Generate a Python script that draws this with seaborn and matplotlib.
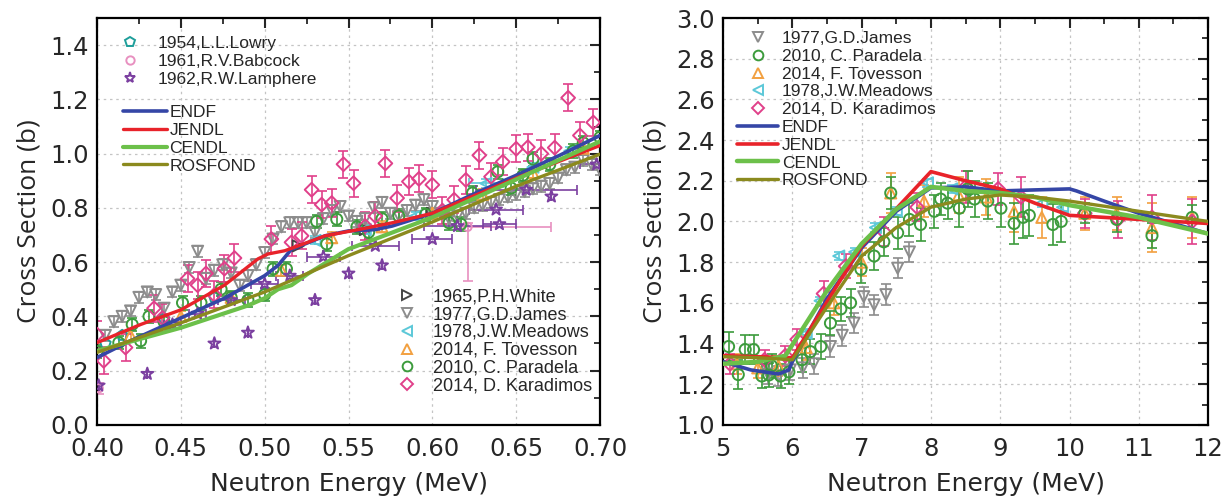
import seaborn as sns
import matplotlib.pyplot as plt
from matplotlib.lines import Line2D
from matplotlib.ticker import MultipleLocator

# ---------------- left panel (0.40 - 0.70 MeV) ----------------
endf_lx = [0.40, 0.42, 0.45, 0.476, 0.50, 0.508, 0.516, 0.524, 0.536, 0.55, 0.566, 0.576, 0.60, 0.626, 0.65, 0.676, 0.70]
endf_ly = [0.248, 0.31, 0.394, 0.467, 0.55, 0.588, 0.648, 0.667, 0.697, 0.715, 0.72, 0.733, 0.78, 0.855, 0.92, 0.994, 1.067]
jendl_lx = [0.40, 0.426, 0.45, 0.476, 0.496, 0.502, 0.512, 0.52, 0.536, 0.556, 0.576, 0.60, 0.65, 0.70]
jendl_ly = [0.303, 0.37, 0.424, 0.515, 0.612, 0.63, 0.642, 0.66, 0.697, 0.72, 0.745, 0.78, 0.91, 1.03]
cendl_lx = [0.40, 0.45, 0.49, 0.50, 0.508, 0.516, 0.526, 0.55, 0.60, 0.65, 0.70]
cendl_ly = [0.273, 0.358, 0.44, 0.467, 0.50, 0.515, 0.558, 0.648, 0.765, 0.905, 1.045]
ros_lx = [0.40, 0.45, 0.50, 0.55, 0.60, 0.65, 0.70]
ros_ly = [0.267, 0.376, 0.49, 0.624, 0.748, 0.88, 0.998]

lowry_x = [0.405, 0.415, 0.44, 0.47]
lowry_y = [0.30, 0.33, 0.39, 0.47]

babcock_x = [0.401, 0.621]
babcock_y = [0.135, 0.73]
babcock_yerr = [[0.02, 0.2], [0.02, 0.015]]
babcock_xerr = [[0.0, 0.0], [0.0, 0.05]]

lamph_x = [0.401, 0.43, 0.445, 0.46, 0.47, 0.48, 0.49, 0.50, 0.515, 0.53, 0.535, 0.55, 0.566, 0.57,
           0.60, 0.615, 0.638, 0.64, 0.656, 0.671, 0.698]
lamph_y = [0.145, 0.188, 0.37, 0.41, 0.30, 0.46, 0.34, 0.52, 0.55, 0.46, 0.62, 0.558, 0.66, 0.588,
           0.685, 0.733, 0.794, 0.74, 0.867, 0.842, 0.96]
lamph_xerr = [0, 0, 0.005, 0.005, 0, 0.008, 0, 0.008, 0.008, 0, 0.01, 0, 0.014, 0,
              0.012, 0.02, 0.016, 0.01, 0.03, 0, 0.01]

white_x = [0.52, 0.56, 0.60]
white_y = [0.66, 0.72, 0.78]

james_lx = [0.405, 0.41, 0.415, 0.42, 0.425, 0.43, 0.435, 0.44, 0.445, 0.45, 0.455, 0.46, 0.465, 0.47, 0.475,
            0.48, 0.485, 0.49, 0.495, 0.50, 0.505, 0.51, 0.515, 0.52, 0.525, 0.53, 0.535, 0.54, 0.545, 0.55,
            0.555, 0.56, 0.565, 0.57, 0.575, 0.58, 0.585, 0.59, 0.595, 0.60, 0.605, 0.61, 0.615, 0.62, 0.625,
            0.63, 0.635, 0.64, 0.645, 0.65, 0.655, 0.66, 0.665, 0.67, 0.675, 0.68, 0.685, 0.69, 0.695, 0.70]
james_ly = [0.33, 0.38, 0.40, 0.42, 0.47, 0.49, 0.48, 0.43, 0.49, 0.515, 0.58, 0.64, 0.54, 0.57, 0.59,
            0.56, 0.515, 0.55, 0.59, 0.635, 0.685, 0.73, 0.745, 0.745, 0.745, 0.71, 0.76, 0.79, 0.805, 0.77,
            0.75, 0.76, 0.80, 0.82, 0.78, 0.77, 0.79, 0.81, 0.83, 0.805, 0.78, 0.76, 0.77, 0.78, 0.80,
            0.81, 0.82, 0.83, 0.84, 0.85, 0.86, 0.87, 0.88, 0.89, 0.91, 0.94, 0.95, 0.975, 0.96, 0.94]

meadows_lx = [0.53, 0.56, 0.59, 0.632, 0.66, 0.682]
meadows_ly = [0.68, 0.72, 0.77, 0.89, 0.95, 1.01]
meadows_lxerr = [0, 0, 0, 0.01, 0, 0]

toves_lx = [0.42, 0.45, 0.48, 0.51, 0.54, 0.57, 0.60, 0.63, 0.66, 0.69]
toves_ly = [0.33, 0.40, 0.47, 0.57, 0.69, 0.73, 0.78, 0.85, 0.93, 1.02]

parad_lx = [0.40, 0.413, 0.421, 0.426, 0.431, 0.44, 0.451, 0.462, 0.474, 0.48, 0.49, 0.50, 0.505, 0.513,
            0.531, 0.537, 0.543, 0.555, 0.562, 0.57, 0.58, 0.596, 0.61, 0.617, 0.624, 0.639, 0.647, 0.654,
            0.66, 0.67, 0.684, 0.69, 0.70]
parad_ly = [0.27, 0.303, 0.37, 0.31, 0.40, 0.38, 0.45, 0.45, 0.50, 0.47, 0.46, 0.48, 0.575, 0.575,
            0.75, 0.667, 0.758, 0.73, 0.71, 0.76, 0.77, 0.776, 0.745, 0.74, 0.855, 0.933, 0.873, 0.92,
            0.98, 0.96, 1.01, 1.04, 1.06]

karad_lx = [0.40, 0.404, 0.417, 0.434, 0.439, 0.454, 0.46, 0.465, 0.47, 0.476, 0.482, 0.504, 0.516, 0.522,
            0.528, 0.534, 0.54, 0.547, 0.553, 0.56, 0.566, 0.572, 0.579, 0.586, 0.592, 0.60, 0.606, 0.613,
            0.62, 0.628, 0.635, 0.642, 0.65, 0.657, 0.665, 0.673, 0.681, 0.688, 0.696]
karad_ly = [0.333, 0.236, 0.285, 0.43, 0.394, 0.539, 0.515, 0.558, 0.479, 0.576, 0.615, 0.685, 0.673, 0.697,
            0.867, 0.812, 0.818, 0.961, 0.891, 0.733, 0.77, 0.964, 0.836, 0.897, 0.907, 0.885, 0.79, 0.83,
            0.903, 0.994, 0.915, 0.97, 1.018, 1.024, 1.0, 1.022, 1.206, 1.067, 1.115]

# ---------------- right panel (5 - 12 MeV) ----------------
endf_rx = [5, 5.4, 5.8, 5.95, 6.0, 6.5, 7.0, 7.5, 8.0, 8.5, 9.0, 9.5, 10.0, 10.1, 10.5, 11.0, 11.5, 12.0]
endf_ry = [1.31, 1.27, 1.25, 1.27, 1.31, 1.62, 1.87, 2.05, 2.165, 2.17, 2.15, 2.155, 2.16, 2.15, 2.10, 2.04, 1.99, 1.94]
jendl_rx = [5, 6.0, 7.0, 8.0, 8.5, 9.0, 9.5, 10.0, 10.5, 11, 12]
jendl_ry = [1.34, 1.33, 1.88, 2.245, 2.20, 2.16, 2.09, 2.03, 2.02, 2.01, 1.99]
cendl_rx = [5, 5.5, 5.9, 6.5, 7.0, 7.5, 8.0, 8.5, 9.0, 9.5, 10, 11, 12]
cendl_ry = [1.30, 1.31, 1.34, 1.66, 1.89, 2.06, 2.17, 2.15, 2.14, 2.12, 2.08, 2.02, 1.94]
ros_rx = [5, 5.5, 6, 6.5, 7, 7.5, 8, 8.5, 9, 9.5, 10, 11, 12]
ros_ry = [1.335, 1.33, 1.32, 1.58, 1.83, 1.97, 2.07, 2.11, 2.13, 2.12, 2.10, 2.05, 2.0]

james_rx = [5.65, 5.8, 5.97, 6.15, 6.31, 6.55, 6.72, 6.89, 7.03, 7.18, 7.35, 7.52, 7.69]
james_ry = [1.25, 1.24, 1.27, 1.28, 1.30, 1.385, 1.44, 1.50, 1.63, 1.59, 1.64, 1.77, 1.85]

parad_rx = [5.08, 5.22, 5.32, 5.44, 5.56, 5.66, 5.7, 5.83, 5.95, 6.14, 6.26, 6.41, 6.55, 6.7, 6.84, 6.99,
            7.18, 7.32, 7.42, 7.52, 7.69, 7.85, 8.05, 8.14, 8.24, 8.41, 8.53, 8.63, 8.82, 9.01, 9.2, 9.33,
            9.42, 9.76, 9.88, 10.22, 10.68, 11.19, 11.77]
parad_ry = [1.385, 1.247, 1.37, 1.37, 1.24, 1.245, 1.29, 1.24, 1.26, 1.32, 1.36, 1.385, 1.50, 1.57, 1.60,
            1.765, 1.83, 1.90, 2.14, 1.944, 2.01, 1.985, 2.05, 2.11, 2.09, 2.065, 2.16, 2.11, 2.10, 2.065,
            1.99, 2.02, 2.03, 1.985, 2.0, 2.04, 2.01, 1.93, 2.02]
parad_rerr = [0.07, 0.07, 0.07, 0.07, 0.06, 0.06, 0.06, 0.06, 0.06, 0.06, 0.06, 0.06, 0.06, 0.06, 0.07,
              0.07, 0.07, 0.07, 0.08, 0.08, 0.08, 0.08, 0.08, 0.08, 0.08, 0.09, 0.09, 0.09, 0.09, 0.09,
              0.10, 0.10, 0.10, 0.10, 0.10, 0.05, 0.06, 0.06, 0.06]

toves_rx = [5.2, 5.5, 5.8, 6.2, 6.6, 7.0, 7.42, 7.9, 8.4, 8.8, 9.2, 9.6, 10.22, 10.68, 11.19, 11.77]
toves_ry = [1.30, 1.28, 1.29, 1.38, 1.60, 1.80, 2.14, 2.10, 2.13, 2.12, 2.05, 2.02, 2.04, 2.04, 1.97, 2.02]
toves_rerr = [0.05, 0.05, 0.05, 0.06, 0.06, 0.07, 0.10, 0.08, 0.09, 0.09, 0.10, 0.10, 0.08, 0.08, 0.12, 0.10]

meadows_rx = [6.2, 6.4, 6.67, 6.9, 7.2, 7.5, 7.95, 8.3, 9.6, 9.9]
meadows_ry = [1.45, 1.61, 1.83, 1.85, 1.97, 2.05, 2.19, 2.16, 2.09, 2.07]

karad_rx = [5.1, 5.6, 5.9, 6.07, 6.45, 6.77, 7.32, 7.8, 8.5, 8.97, 9.3, 10.22, 10.7, 11.19, 11.77]
karad_ry = [1.30, 1.32, 1.34, 1.42, 1.645, 1.78, 1.95, 2.07, 2.17, 2.16, 2.12, 2.04, 2.01, 2.02, 2.0]
karad_rerr = [0.05, 0.05, 0.05, 0.05, 0.06, 0.06, 0.07, 0.07, 0.08, 0.08, 0.10, 0.07, 0.09, 0.11, 0.11]

C = dict(endf='#3546A6', jendl='#E8232A', cendl='#6CC04A', ros='#8B8A1E',
         lowry='#1E9E9A', babcock='#E890C0', lamph='#7B3FA0', white='#444444',
         james='#8C8C8C', meadows='#5CC8D8', toves='#F2A040', parad='#3C9B3C', karad='#E0408A')

sns.set_style('white')
plt.rcParams['font.family'] = ['DejaVu Sans']

fig = plt.figure(figsize=(12.28, 5.01), dpi=100)
axL = fig.add_axes([0.079, 0.152, 0.4096, 0.812])
axR = fig.add_axes([0.5888, 0.152, 0.395, 0.812])


def exp(ax, x, y, marker, color, yerr=None, xerr=None, ms=8.0):
    if yerr is not None or xerr is not None:
        ax.errorbar(x, y, yerr=yerr, xerr=xerr, fmt='none', ecolor=color,
                    elinewidth=1.2, capsize=3.5, capthick=1.2, zorder=2)
    pts = sns.scatterplot(x=x, y=y, ax=ax, marker=marker, s=ms ** 2, zorder=3)
    coll = pts.collections[-1]
    coll.set_facecolor('none')
    coll.set_edgecolor(color)
    coll.set_linewidth(1.4)


def evals(ax, data):
    for x, y, c, lw in data:
        sns.lineplot(x=x, y=y, ax=ax, color=c, lw=lw, zorder=5, sort=True, estimator=None)


# left panel
exp(axL, lowry_x, lowry_y, 'p', C['lowry'])
exp(axL, babcock_x, babcock_y, 'o', C['babcock'], yerr=babcock_yerr, xerr=babcock_xerr, ms=6)
exp(axL, white_x, white_y, '>', C['white'])
exp(axL, james_lx, james_ly, 'v', C['james'], yerr=[0.02] * len(james_lx))
exp(axL, meadows_lx, meadows_ly, '<', C['meadows'], yerr=[0.015] * len(meadows_lx), xerr=meadows_lxerr)
exp(axL, toves_lx, toves_ly, '^', C['toves'], yerr=[0.02] * len(toves_lx))
exp(axL, parad_lx, parad_ly, 'o', C['parad'], yerr=[0.025] * len(parad_lx))
exp(axL, karad_lx, karad_ly, 'D', C['karad'], yerr=[0.05] * len(karad_lx), ms=7)
exp(axL, lamph_x, lamph_y, '*', C['lamph'], xerr=lamph_xerr, ms=9)
evals(axL, [(endf_lx, endf_ly, C['endf'], 2.6), (jendl_lx, jendl_ly, C['jendl'], 2.4),
            (cendl_lx, cendl_ly, C['cendl'], 3.0), (ros_lx, ros_ly, C['ros'], 2.4)])

# right panel
exp(axR, james_rx, james_ry, 'v', C['james'], yerr=[0.05] * len(james_rx))
exp(axR, toves_rx, toves_ry, '^', C['toves'], yerr=toves_rerr)
exp(axR, meadows_rx, meadows_ry, '<', C['meadows'], yerr=[0.02] * len(meadows_rx))
exp(axR, karad_rx, karad_ry, 'D', C['karad'], yerr=karad_rerr, ms=7)
exp(axR, parad_rx, parad_ry, 'o', C['parad'], yerr=parad_rerr)
evals(axR, [(endf_rx, endf_ry, C['endf'], 2.6), (jendl_rx, jendl_ry, C['jendl'], 2.6),
            (cendl_rx, cendl_ry, C['cendl'], 3.2), (ros_rx, ros_ry, C['ros'], 2.4)])

# axes styling
for ax, xl, yl, xmaj, xmin in [(axL, (0.40, 0.70), (0.0, 1.5), 0.05, 0.025),
                                (axR, (5, 12), (1.0, 3.0), 1, 0.5)]:
    ax.set_xlim(*xl)
    ax.set_ylim(*yl)
    ax.xaxis.set_major_locator(MultipleLocator(xmaj))
    ax.xaxis.set_minor_locator(MultipleLocator(xmin))
    ax.yaxis.set_major_locator(MultipleLocator(0.2))
    ax.yaxis.set_minor_locator(MultipleLocator(0.1))
    ax.grid(True, which='major', color='#C4C4C4', lw=0.9, ls=(0, (2, 3)))
    ax.tick_params(which='both', direction='in', top=True, right=True, labelsize=17.5, pad=6)
    ax.tick_params(axis='x', which='major', pad=9)
    ax.tick_params(which='major', length=7, width=1.5)
    ax.tick_params(which='minor', length=4, width=1.3)
    for s in ax.spines.values():
        s.set_linewidth(1.6)
        s.set_color('black')
    ax.set_xlabel('Neutron Energy (MeV)', fontsize=18, labelpad=8)
    ax.set_ylabel('Cross Section (b)', fontsize=19, family='Open Sans', labelpad=6)

axL.yaxis.set_major_formatter(plt.FuncFormatter(lambda v, p: f'{v:.1f}'))
axL.xaxis.set_major_formatter(plt.FuncFormatter(lambda v, p: f'{v:.2f}'))
axR.yaxis.set_major_formatter(plt.FuncFormatter(lambda v, p: f'{v:.1f}'))
axR.xaxis.set_major_formatter(plt.FuncFormatter(lambda v, p: f'{v:.0f}'))


def mk(marker, color, ms=8.0, label=''):
    return Line2D([], [], ls='none', marker=marker, mfc='none', mec=color, mew=1.4, ms=ms, label=label)


def ln(color, lw, label):
    return Line2D([], [], color=color, lw=lw, label=label)


lgkw = dict(frameon=False, borderpad=0, borderaxespad=0, labelspacing=0.15,
            prop={'family': 'Liberation Sans', 'size': 12.5})

lg1 = axL.legend(handles=[mk('p', C['lowry'], 7, '1954,L.L.Lowry'),
                          mk('o', C['babcock'], 6, '1961,R.V.Babcock'),
                          mk('*', C['lamph'], 8, '1962,R.W.Lamphere')],
                 loc='upper left', bbox_to_anchor=(0.045, 0.955), handlelength=1.2,
                 handletextpad=1.0, **lgkw)
axL.add_artist(lg1)
lg2 = axL.legend(handles=[ln(C['endf'], 2.6, 'ENDF'), ln(C['jendl'], 2.4, 'JENDL'),
                          ln(C['cendl'], 3.0, 'CENDL'), ln(C['ros'], 2.4, 'ROSFOND')],
                 loc='upper left', bbox_to_anchor=(0.052, 0.786), handlelength=2.5,
                 handletextpad=0.17, **lgkw)
axL.add_artist(lg2)
lgkw3 = dict(lgkw)
lgkw3['prop'] = {'family': 'Liberation Sans', 'size': 13}
lgkw3['labelspacing'] = 0.05
axL.legend(handles=[mk('>', C['white'], 7, '1965,P.H.White'),
                    mk('v', C['james'], 7, '1977,G.D.James'),
                    mk('<', C['meadows'], 7, '1978,J.W.Meadows'),
                    mk('^', C['toves'], 7, '2014, F. Tovesson'),
                    mk('o', C['parad'], 7, '2010, C. Paradela'),
                    mk('D', C['karad'], 6, '2014, D. Karadimos')],
           loc='upper left', bbox_to_anchor=(0.594, 0.336), handlelength=1.2,
           handletextpad=0.85, **lgkw3)

axR.legend(handles=[mk('v', C['james'], 7, '1977,G.D.James'),
                    mk('o', C['parad'], 7, '2010, C. Paradela'),
                    mk('^', C['toves'], 7, '2014, F. Tovesson'),
                    mk('<', C['meadows'], 7, '1978,J.W.Meadows'),
                    mk('D', C['karad'], 6, '2014, D. Karadimos'),
                    ln(C['endf'], 2.6, 'ENDF'), ln(C['jendl'], 2.6, 'JENDL'),
                    ln(C['cendl'], 3.2, 'CENDL'), ln(C['ros'], 2.4, 'ROSFOND')],
           loc='upper left', bbox_to_anchor=(0.029, 0.968), handlelength=2.36,
           handletextpad=0.23, **lgkw)

fig.savefig('out.png', dpi=100)
